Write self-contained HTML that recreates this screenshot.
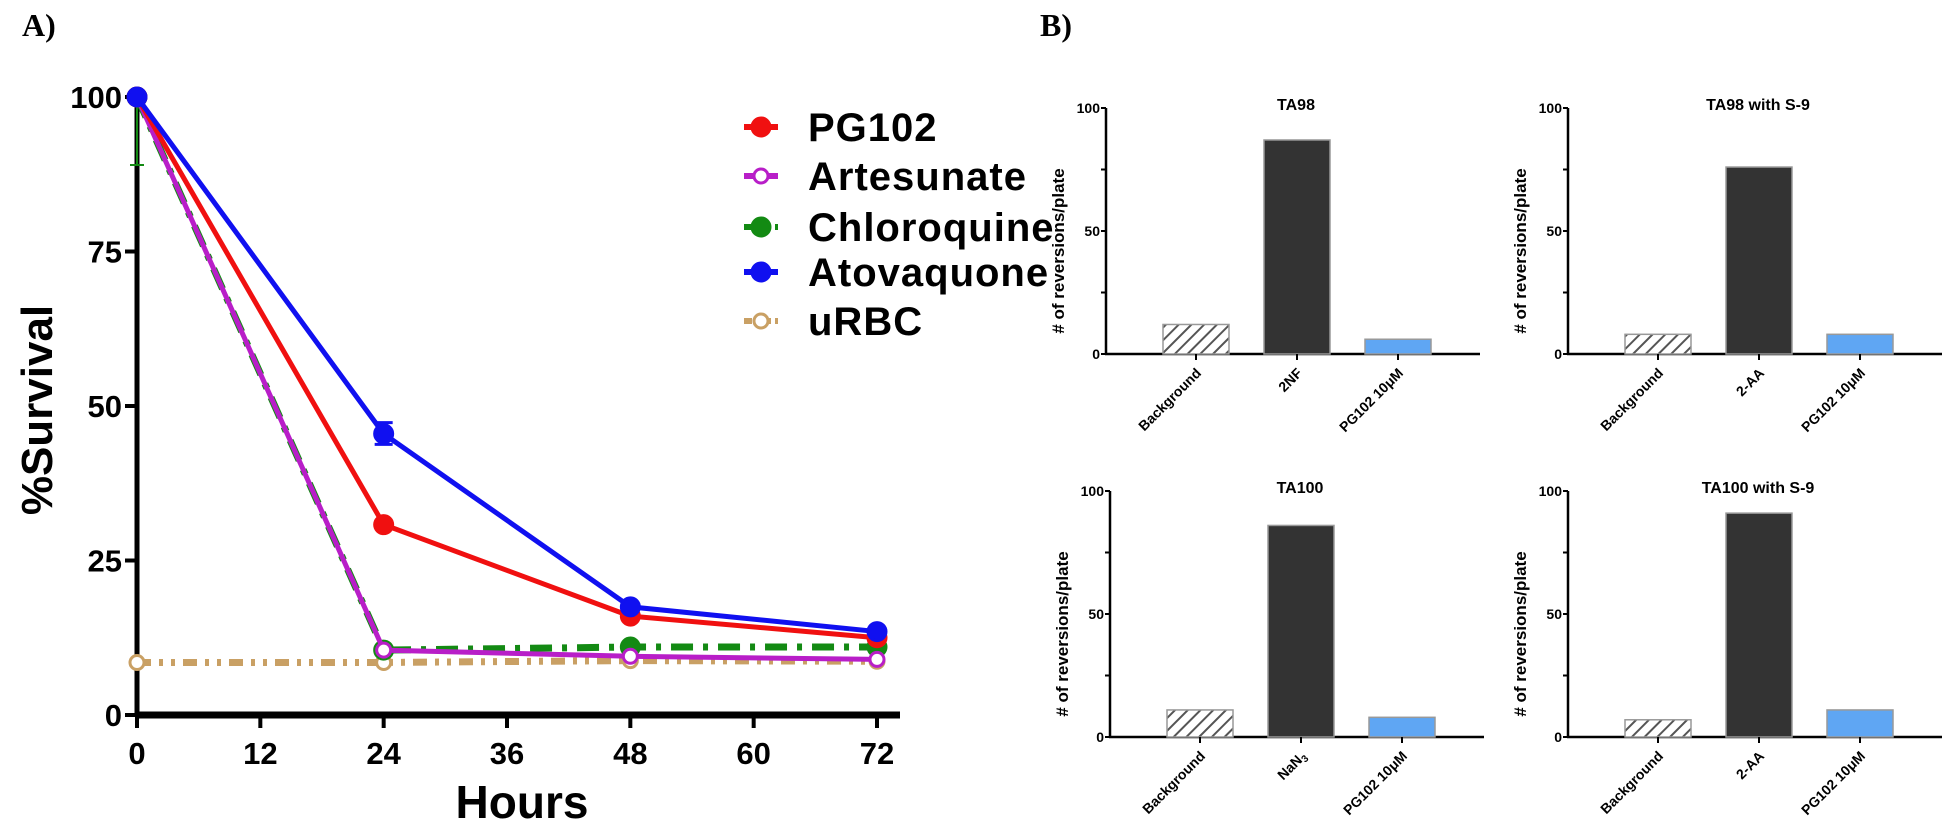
<!DOCTYPE html>
<html><head><meta charset="utf-8"><style>
html,body{margin:0;padding:0;background:#fff;width:1950px;height:828px;overflow:hidden}
svg{display:block}
.n{font-family:"Liberation Sans Narrow","Liberation Sans",sans-serif;font-weight:bold}
.s{font-family:"Liberation Sans",sans-serif;font-weight:bold}
</style></head><body>
<svg id="fig" width="1950" height="828" xmlns="http://www.w3.org/2000/svg">
<defs><pattern id="hatch" patternUnits="userSpaceOnUse" width="9" height="9" patternTransform="rotate(45)"><rect width="9" height="9" fill="#fff"/><line x1="0" y1="0" x2="0" y2="9" stroke="#555" stroke-width="4"/></pattern></defs>
<text x="22" y="36" font-family="Liberation Serif,serif" font-weight="bold" font-size="32">A)</text>
<text x="1040" y="36" font-family="Liberation Serif,serif" font-weight="bold" font-size="32">B)</text>
<g id="pa"></g>
<g id="pb"></g>
</svg>
<script>
const hours=[0,24,48,72];
const seriesNames=["PG102","Artesunate","Chloroquine","Atovaquone","uRBC"];
const pg102=[100,30.8,16,12.5];
const artesunate=[100,10.5,9.5,9];
const chloroquine=[100,10.5,11,11];
const atovaquone=[100,45.5,17.5,13.5];
const urbc=[8.5,8.5,8.8,8.7];
const xTicks=[0,12,24,36,48,60,72];
const yTicks=[0,25,50,75,100];

const bCats=[["Background","2NF","PG102 10μM"],["Background","2-AA","PG102 10μM"],["Background","NaN3","PG102 10μM"],["Background","2-AA","PG102 10μM"]];
const bTitles=["TA98","TA98 with S-9","TA100","TA100 with S-9"];
const ta98=[12,87,6];
const ta98s9=[8,76,8];
const ta100=[11,86,8];
const ta100s9=[7,91,11];
const bTicks=[0,50,100];

const NS="http://www.w3.org/2000/svg";
function mk(p,t,a,txt){const e=document.createElementNS(NS,t);for(const k in a)e.setAttribute(k,a[k]);if(txt!==undefined)e.textContent=txt;p.appendChild(e);return e;}

// Panel A
const pa=document.getElementById('pa');
const X=h=>137+h*(877-137)/72, Y=v=>715-v*(715-97)/100;
mk(pa,'line',{x1:137,y1:Y(100)-4,x2:137,y2:717,stroke:'#000','stroke-width':5});
mk(pa,'line',{x1:135,y1:715,x2:900,y2:715,stroke:'#000','stroke-width':7});
yTicks.forEach(v=>{mk(pa,'line',{x1:125,y1:Y(v),x2:137,y2:Y(v),stroke:'#000','stroke-width':4});
 const t=mk(pa,'text',{x:122,y:Y(v)+11,'text-anchor':'end','font-size':31,class:'n'},String(v));
 });
xTicks.forEach(v=>{mk(pa,'line',{x1:X(v),y1:715,x2:X(v),y2:728,stroke:'#000','stroke-width':4});
 const t=mk(pa,'text',{x:X(v),y:764,'text-anchor':'middle','font-size':31,class:'n'},String(v));
 });
let t=mk(pa,'text',{x:522,y:818,'text-anchor':'middle','font-size':46,class:'s'},'Hours');

t=mk(pa,'text',{x:0,y:0,'text-anchor':'middle','font-size':44,class:'s',transform:'translate(52,410) rotate(-90)'},'%Survival');


const sd=[
 {v:urbc,c:'#c9a064',dash:'14 8 4 8 4 8',fill:'#fff',n:'urbc'},
 {v:chloroquine,c:'#138a13',dash:'22 10 5 10',fill:'#138a13',n:'chloroquine'},
 {v:artesunate,c:'#b81ec8',dash:'',fill:'#fff',n:'artesunate'},
 {v:pg102,c:'#f01010',dash:'',fill:'#f01010',n:'pg102'},
 {v:atovaquone,c:'#1010f0',dash:'',fill:'#1010f0',n:'atovaquone'}];
let e=mk(pa,'path',{d:`M${X(0)} ${Y(100)} V${Y(89)} M${X(0)-7} ${Y(89)} H${X(0)+7}`,stroke:'#138a13','stroke-width':2,fill:'none'});

e=mk(pa,'path',{d:`M${X(24)} ${Y(47.3)} V${Y(43.8)} M${X(24)-9} ${Y(47.3)} H${X(24)+9} M${X(24)-9} ${Y(43.8)} H${X(24)+9}`,stroke:'#1010f0','stroke-width':3,fill:'none'});

sd.forEach(s=>{
 const g=mk(pa,'g',{});
 const pts=hours.map((h,i)=>X(h)+','+Y(s.v[i])).join(' ');
 const l=mk(g,'polyline',{points:pts,fill:'none',stroke:s.c,'stroke-width':s.dash?7:5,'stroke-dasharray':s.dash});
 
 hours.forEach((h,i)=>{const p=mk(g,'circle',{cx:X(h),cy:Y(s.v[i]),r:s.fill==='#fff'?7:9,fill:s.fill,stroke:s.c,'stroke-width':3});
  });
});
const legY=[127,176,227,272,321];
const legSty=[sd[3],sd[2],sd[1],sd[4],sd[0]];
seriesNames.forEach((nm,i)=>{const s=legSty[i];const g=mk(pa,'g',{});
 
 mk(g,'line',{x1:744,y1:legY[i],x2:778,y2:legY[i],stroke:s.c,'stroke-width':6,'stroke-dasharray':s.dash?'8 4 3 4':''});
 mk(g,'circle',{cx:761,cy:legY[i],r:s.fill==='#fff'?7:9,fill:s.fill,stroke:s.c,'stroke-width':3});
 mk(g,'text',{x:808,y:legY[i]+14,'font-size':40,class:'s','letter-spacing':'1'},nm);});

// Panel B
const pb=document.getElementById('pb');
const panels=[{ax:1106,y0:354,v:ta98},{ax:1568,y0:354,v:ta98s9},{ax:1110,y0:737,v:ta100},{ax:1568,y0:737,v:ta100s9}];
const fills=['url(#hatch)','#333','#5fa6f3'];
panels.forEach((p,pi)=>{
 const g=mk(pb,'g',{});
 const YB=v=>p.y0-v*2.46;
 const BX=i=>p.ax+90+i*101;
 mk(g,'line',{x1:p.ax,y1:YB(100),x2:p.ax,y2:p.y0+1,stroke:'#000','stroke-width':2.5});
 mk(g,'line',{x1:p.ax-1,y1:p.y0,x2:p.ax+374,y2:p.y0,stroke:'#000','stroke-width':2.5});
 [0,25,50,75,100].forEach(v=>mk(g,'line',{x1:p.ax-5,y1:YB(v),x2:p.ax,y2:YB(v),stroke:'#000','stroke-width':2}));
 bTicks.forEach(v=>{const tt=mk(g,'text',{x:p.ax-6,y:YB(v)+5,'text-anchor':'end','font-size':14,class:'s'},String(v));
  });
 let tt=mk(g,'text',{x:p.ax+190,y:YB(100)+2,'text-anchor':'middle','font-size':16,class:'s'},bTitles[pi]);
 
 tt=mk(g,'text',{x:0,y:0,'text-anchor':'middle','font-size':17,class:'s',transform:`translate(${p.ax-42},${(p.y0+YB(100))/2+20}) rotate(-90)`},'# of reversions/plate');
 
 p.v.forEach((v,i)=>{const r=mk(g,'rect',{x:BX(i)-33,y:YB(v),width:66,height:p.y0-YB(v),fill:fills[i],stroke:'#999','stroke-width':1.5});
  
  mk(g,'line',{x1:BX(i),y1:p.y0,x2:BX(i),y2:p.y0+6,stroke:'#000','stroke-width':2});
  const lab=bCats[pi][i];
  const tx=mk(g,'text',{'text-anchor':'end','font-size':14,class:'s',transform:`translate(${BX(i)+6},${p.y0+20}) rotate(-45)`});
  
  if(lab==='NaN3'){tx.textContent='NaN';mk(tx,'tspan',{'font-size':10,dy:3},'3');}else tx.textContent=lab;
 });
});
</script>
</body></html>
